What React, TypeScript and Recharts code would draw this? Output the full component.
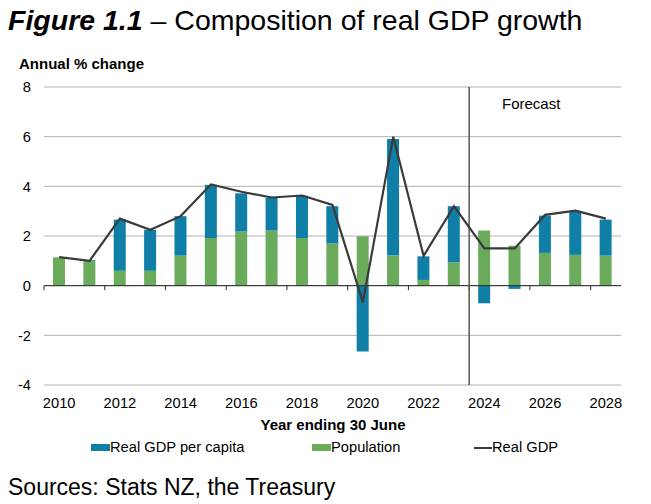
import React from 'react';
import {
  ComposedChart,
  Bar,
  Line,
  XAxis,
  YAxis,
  CartesianGrid,
  ReferenceLine,
} from 'recharts';

const years = [
  '2010', '2011', '2012', '2013', '2014', '2015', '2016', '2017', '2018', '2019',
  '2020', '2021', '2022', '2023', '2024', '2025', '2026', '2027', '2028',
];
const population = [1.14, 1.0, 0.6, 0.6, 1.21, 1.92, 2.18, 2.22, 1.92, 1.7, 1.99, 1.21, 0.23, 0.94, 2.22, 1.61, 1.32, 1.24, 1.21];
const perCapita = [0, 0.03, 2.06, 1.65, 1.59, 2.14, 1.54, 1.32, 1.7, 1.5, -2.65, 4.7, 0.95, 2.26, -0.71, -0.13, 1.5, 1.74, 1.45];
const realGdp = [1.15, 1.0, 2.7, 2.25, 2.8, 4.08, 3.78, 3.55, 3.63, 3.25, -0.67, 6.0, 1.2, 3.2, 1.5, 1.5, 2.85, 3.02, 2.7];
const yTicks = [-4, -2, 0, 2, 4, 6, 8];
// small ticks on the zero line sit at the left edge of every other year
const tickYears = years.filter((_, i) => i % 2 === 0);
const forecastYear = '2024';

const BLUE = '#0f7fa7';
const GREEN = '#6aab5c';
const DARK = '#3a3a3a';
const FONT = '"Liberation Sans", Arial, sans-serif';

const chartData = years.map((year, i) => ({
  year,
  population: population[i],
  perCapita: perCapita[i],
  realGdp: realGdp[i],
}));

const LegendItem = ({ left, swatch, label }: { left: number; swatch: React.ReactNode; label: string }) => (
  <div style={{ position: 'absolute', left, top: 440, display: 'flex', alignItems: 'center', fontSize: 14.7, lineHeight: '15px' }}>
    {swatch}
    <span>{label}</span>
  </div>
);

export default function App() {
  return (
    <div style={{ position: 'absolute', left: 0, top: 0, width: 651, height: 504, background: '#fff', fontFamily: FONT, color: '#000' }}>
      <div style={{ position: 'absolute', left: 8, top: 6, fontSize: 28.5, lineHeight: 1, whiteSpace: 'nowrap' }}>
        <b><i>Figure 1.1</i></b> – Composition of real GDP growth
      </div>
      <div style={{ position: 'absolute', left: 19, top: 56, fontSize: 15, fontWeight: 'bold', lineHeight: 1 }}>
        Annual % change
      </div>

      <div style={{ position: 'absolute', left: 0, top: 0 }}>
        <ComposedChart
          width={651}
          height={420}
          data={chartData}
          stackOffset="sign"
          margin={{ top: 87, right: 30, bottom: 0, left: 0 }}
        >
          <CartesianGrid vertical={false} stroke="#b0b0b0" />
          <XAxis
            dataKey="year"
            interval={1}
            height={35}
            axisLine={false}
            tickLine={false}
            tickSize={0}
            tickMargin={13}
            tick={{ fill: '#000', fontSize: 14.7, fontFamily: FONT }}
          />
          <YAxis
            domain={[-4, 8]}
            ticks={yTicks}
            width={44}
            axisLine={false}
            tickLine={false}
            tickSize={0}
            tickMargin={13}
            tick={{ fill: '#000', fontSize: 14.7, fontFamily: FONT }}
          />
          <Bar dataKey="population" stackId="a" fill={GREEN} barSize={12} isAnimationActive={false} />
          <Bar dataKey="perCapita" stackId="a" fill={BLUE} barSize={12} isAnimationActive={false} />
          <ReferenceLine y={0} stroke="#262626" strokeWidth={1} />
          {tickYears.map((y) => (
            <ReferenceLine
              key={y}
              position="start"
              segment={[{ x: y, y: 0 }, { x: y, y: -0.18 }]}
              stroke="#262626"
              strokeWidth={1}
            />
          ))}
          <ReferenceLine x={forecastYear} position="start" stroke="#555" strokeWidth={1.5} />
          <Line
            dataKey="realGdp"
            stroke={DARK}
            strokeWidth={2.2}
            dot={false}
            activeDot={false}
            isAnimationActive={false}
          />
        </ComposedChart>
      </div>

      <div style={{ position: 'absolute', left: 502, top: 96, fontSize: 15, lineHeight: 1 }}>Forecast</div>
      <div style={{ position: 'absolute', left: 233, width: 200, top: 417, textAlign: 'center', fontSize: 15, fontWeight: 'bold', lineHeight: 1 }}>
        Year ending 30 June
      </div>

      <LegendItem left={91} label="Real GDP per capita" swatch={<span style={{ display: 'inline-block', width: 19, height: 7, background: BLUE }} />} />
      <LegendItem left={312} label="Population" swatch={<span style={{ display: 'inline-block', width: 19, height: 7, background: GREEN }} />} />
      <LegendItem left={474} label="Real GDP" swatch={<span style={{ display: 'inline-block', width: 18, height: 2, background: DARK }} />} />

      <div style={{ position: 'absolute', left: 8, top: 476, fontSize: 23, lineHeight: 1, whiteSpace: 'nowrap' }}>
        Sources: Stats NZ, the Treasury
      </div>
    </div>
  );
}
